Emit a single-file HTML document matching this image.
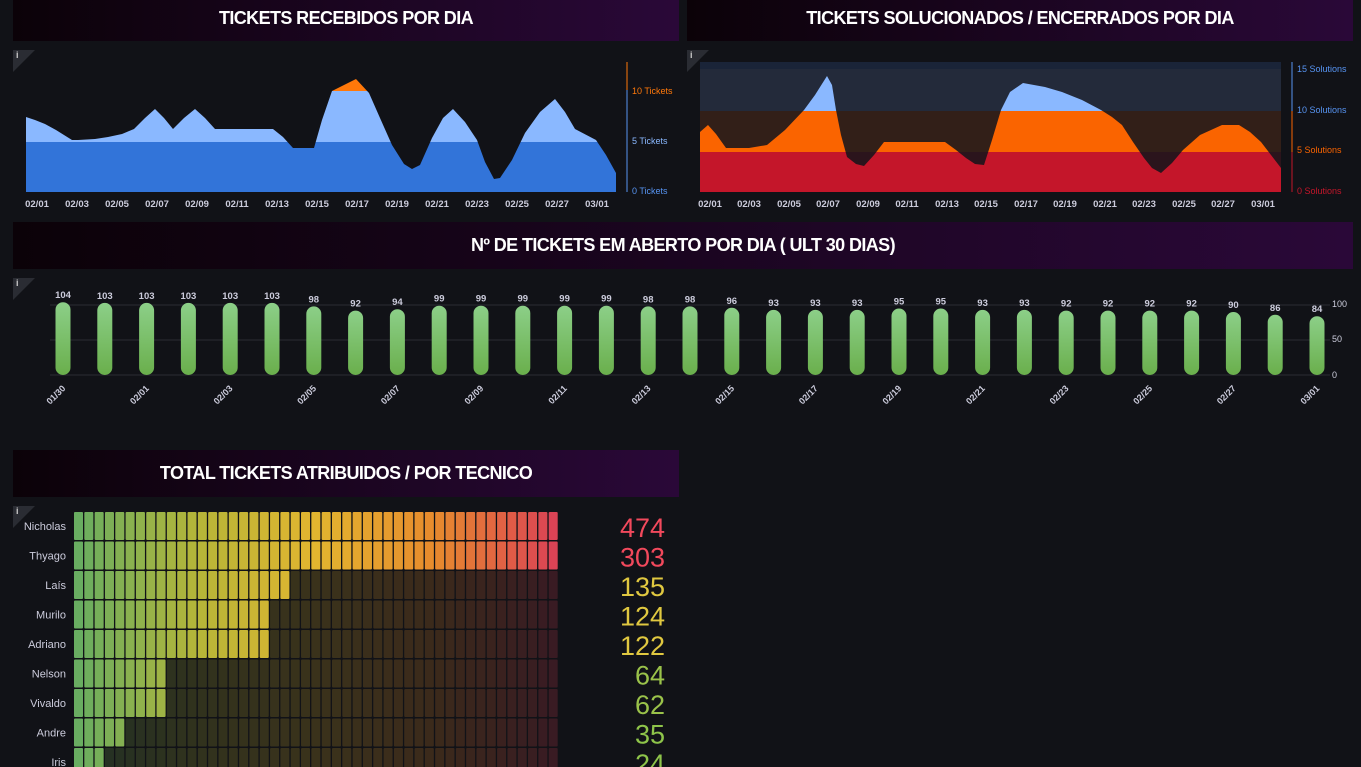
<!DOCTYPE html>
<html><head><meta charset="utf-8"><style>
body{margin:0;background:#111217;width:1361px;height:767px;overflow:hidden;font-family:"Liberation Sans",sans-serif;position:relative}
.h{position:absolute;background:linear-gradient(90deg,#0b0208,#2a0838);color:#fff;font-weight:bold;font-size:18px;text-align:center;letter-spacing:-0.6px}
.i{position:absolute;width:0;height:0;border-top:22px solid #2a2c33;border-right:22px solid transparent}
.i:after{content:"i";position:absolute;left:3px;top:-22px;font-size:9px;color:#ccc;font-weight:bold}
svg text{font-family:"Liberation Sans",sans-serif}
</style></head><body>
<div class="h" style="left:13px;top:0;width:666px;height:41px;line-height:36px">TICKETS RECEBIDOS POR DIA</div>
<div class="h" style="left:687px;top:0;width:666px;height:41px;line-height:36px">TICKETS SOLUCIONADOS / ENCERRADOS POR DIA</div>
<div class="h" style="left:13px;top:222px;width:1340px;height:47px;line-height:46px">Nº DE TICKETS EM ABERTO POR DIA ( ULT 30 DIAS)</div>
<div class="h" style="left:13px;top:450px;width:666px;height:47px;line-height:46px">TOTAL TICKETS ATRIBUIDOS / POR TECNICO</div>
<div class="i" style="left:13px;top:50px"></div>
<div class="i" style="left:687px;top:50px"></div>
<div class="i" style="left:13px;top:278px"></div>
<div class="i" style="left:13px;top:506px"></div>
<svg width="1361" height="767" style="position:absolute;left:0;top:0">
<defs>
<clipPath id="c1"><polygon points="26,192 26,117 35,120 45,124 56,130 72,140 78,140 95,139 108,137 122,134 134,129 145,118 155,109 164,118 173,129 184,118 195,109 205,118 215,129 273,129 283,137 293,148 314,148 322,120 332,91 356,79 369,93 380,118 392,145 404,164 412,169 420,165 432,138 443,118 453,109 465,122 477,140 485,162 494,179 500,178 512,160 525,133 540,112 555,99 565,112 575,129 596,140 606,155 616,173 616,192"/></clipPath>
<clipPath id="c2"><polygon points="700,192 700,132 708,125 716,134 726,148 749,148 767,145 785,130 804,110 815,95 827,76 832,85 836,110 841,135 847,157 856,164 864,166 874,155 884,142 945,142 956,150 966,158 975,164 984,165 992,140 1001,110 1010,92 1023,83 1045,87 1062,92 1082,100 1101,110 1112,117 1122,125 1133,142 1144,158 1152,168 1161,173 1172,163 1183,150 1200,135 1222,125 1239,125 1250,132 1261,142 1271,155 1281,168 1281,192"/></clipPath>
</defs>
<g clip-path="url(#c1)">
<rect x="26" y="40" width="600" height="51" fill="#ff780a"/>
<rect x="26" y="91" width="600" height="51" fill="#8ab8ff"/>
<rect x="26" y="142" width="600" height="50" fill="#3274d9"/>
</g>
<line x1="627" y1="62" x2="627" y2="90" stroke="#ff780a"/>
<line x1="627" y1="90" x2="627" y2="192" stroke="#5794f2"/>
<g font-size="9">
<text x="632" y="94" fill="#ff780a">10 Tickets</text>
<text x="632" y="144" fill="#8ab8ff">5 Tickets</text>
<text x="632" y="194" fill="#5794f2">0 Tickets</text>
</g>
<g font-size="9.5" fill="#ccccdc" font-weight="bold" text-anchor="middle">
<text x="37" y="207">02/01</text><text x="77" y="207">02/03</text><text x="117" y="207">02/05</text><text x="157" y="207">02/07</text><text x="197" y="207">02/09</text><text x="237" y="207">02/11</text><text x="277" y="207">02/13</text><text x="317" y="207">02/15</text><text x="357" y="207">02/17</text><text x="397" y="207">02/19</text><text x="437" y="207">02/21</text><text x="477" y="207">02/23</text><text x="517" y="207">02/25</text><text x="557" y="207">02/27</text><text x="597" y="207">03/01</text>
</g>
<rect x="700" y="62" width="581" height="7" fill="#1a2438"/>
<rect x="700" y="69" width="581" height="42" fill="#232a3a"/>
<rect x="700" y="111" width="581" height="41" fill="#321f18"/>
<rect x="700" y="152" width="581" height="40" fill="#2b141c"/>
<g clip-path="url(#c2)">
<rect x="700" y="40" width="581" height="71" fill="#8ab8ff"/>
<rect x="700" y="111" width="581" height="41" fill="#fa6400"/>
<rect x="700" y="152" width="581" height="40" fill="#c4162a"/>
</g>
<line x1="1292" y1="62" x2="1292" y2="111" stroke="#5794f2"/>
<line x1="1292" y1="111" x2="1292" y2="152" stroke="#fa6400"/>
<line x1="1292" y1="152" x2="1292" y2="192" stroke="#c4162a"/>
<g font-size="9">
<text x="1297" y="72" fill="#5794f2">15 Solutions</text>
<text x="1297" y="113" fill="#5794f2">10 Solutions</text>
<text x="1297" y="153" fill="#fa6400">5 Solutions</text>
<text x="1297" y="194" fill="#c4162a">0 Solutions</text>
</g>
<g font-size="9.5" fill="#ccccdc" font-weight="bold" text-anchor="middle">
<text x="710" y="207">02/01</text><text x="749" y="207">02/03</text><text x="789" y="207">02/05</text><text x="828" y="207">02/07</text><text x="868" y="207">02/09</text><text x="907" y="207">02/11</text><text x="947" y="207">02/13</text><text x="986" y="207">02/15</text><text x="1026" y="207">02/17</text><text x="1065" y="207">02/19</text><text x="1105" y="207">02/21</text><text x="1144" y="207">02/23</text><text x="1184" y="207">02/25</text><text x="1223" y="207">02/27</text><text x="1263" y="207">03/01</text>
</g>
<defs><linearGradient id="gb" x1="0" y1="0" x2="0" y2="1"><stop offset="0" stop-color="#8ccf88"/><stop offset="1" stop-color="#6aaf4c"/></linearGradient></defs>
<line x1="50" y1="305" x2="1330" y2="305" stroke="#2a2c33"/>
<line x1="50" y1="340" x2="1330" y2="340" stroke="#2a2c33"/>
<line x1="50" y1="375" x2="1330" y2="375" stroke="#2a2c33"/>
<g font-size="9" fill="#ccccdc"><text x="1332" y="307">100</text><text x="1332" y="342">50</text><text x="1332" y="378">0</text></g>
<g id="bars"></g>
<g id="gauge"></g>
</svg>
<script>
var vals=[104,103,103,103,103,103,98,92,94,99,99,99,99,99,98,98,96,93,93,93,95,95,93,93,92,92,92,92,90,86,84];
var labs=["01/30","02/01","02/03","02/05","02/07","02/09","02/11","02/13","02/15","02/17","02/19","02/21","02/23","02/25","02/27","03/01"];
var s="";
for(var i=0;i<31;i++){var x=63+i*41.8,t=375-vals[i]*0.7;
s+='<rect x="'+(x-7.5)+'" y="'+t+'" width="15" height="'+(375-t)+'" rx="7.5" fill="url(#gb)"/>';
s+='<text x="'+x+'" y="'+(t-4)+'" font-size="9.5" font-weight="bold" fill="#ccccdc" text-anchor="middle">'+vals[i]+'</text>';
if(i%2==0){s+='<text transform="translate('+(x+3)+',389) rotate(-45)" font-size="9" font-weight="bold" fill="#ccccdc" text-anchor="end">'+labs[i/2]+'</text>';}}
document.getElementById("bars").innerHTML=s;
var names=["Nicholas","Thyago","Laís","Murilo","Adriano","Nelson","Vivaldo","Andre","Iris"];
var nums=[474,303,135,124,122,64,62,35,24];
var lit=[47,47,21,19,19,9,9,5,3];
var vc=["#f2495c","#f2495c","#e0c840","#e0c840","#e0c840","#9ac24a","#9ac24a","#8ec44a","#8ec44a"];
function col(f,a){var st=[[115,191,105],[200,200,60],[250,200,50],[255,152,48],[242,73,92]];var p=f*4,k=Math.min(3,Math.floor(p)),r=p-k;var c=[0,1,2].map(function(j){return Math.round(st[k][j]+(st[k+1][j]-st[k][j])*r);});return "rgba("+c[0]+","+c[1]+","+c[2]+","+a+")";}
var g="";var N=47,pw=(559-74)/N;
for(var r=0;r<9;r++){var y=512+r*29.5;
g+='<text x="66" y="'+(y+18)+'" font-size="11" fill="#ccccdc" text-anchor="end">'+names[r]+'</text>';
for(var c=0;c<N;c++){var on=c<lit[r];g+='<rect x="'+(74+c*pw)+'" y="'+y+'" width="'+(pw-1.3)+'" height="28" rx="1" fill="'+col(c/(N-1),on?0.9:0.18)+'"/>';}
g+='<text x="665" y="'+(y+25)+'" font-size="27" fill="'+vc[r]+'" text-anchor="end">'+nums[r]+'</text>';}
document.getElementById("gauge").innerHTML=g;
</script>
</body></html>
